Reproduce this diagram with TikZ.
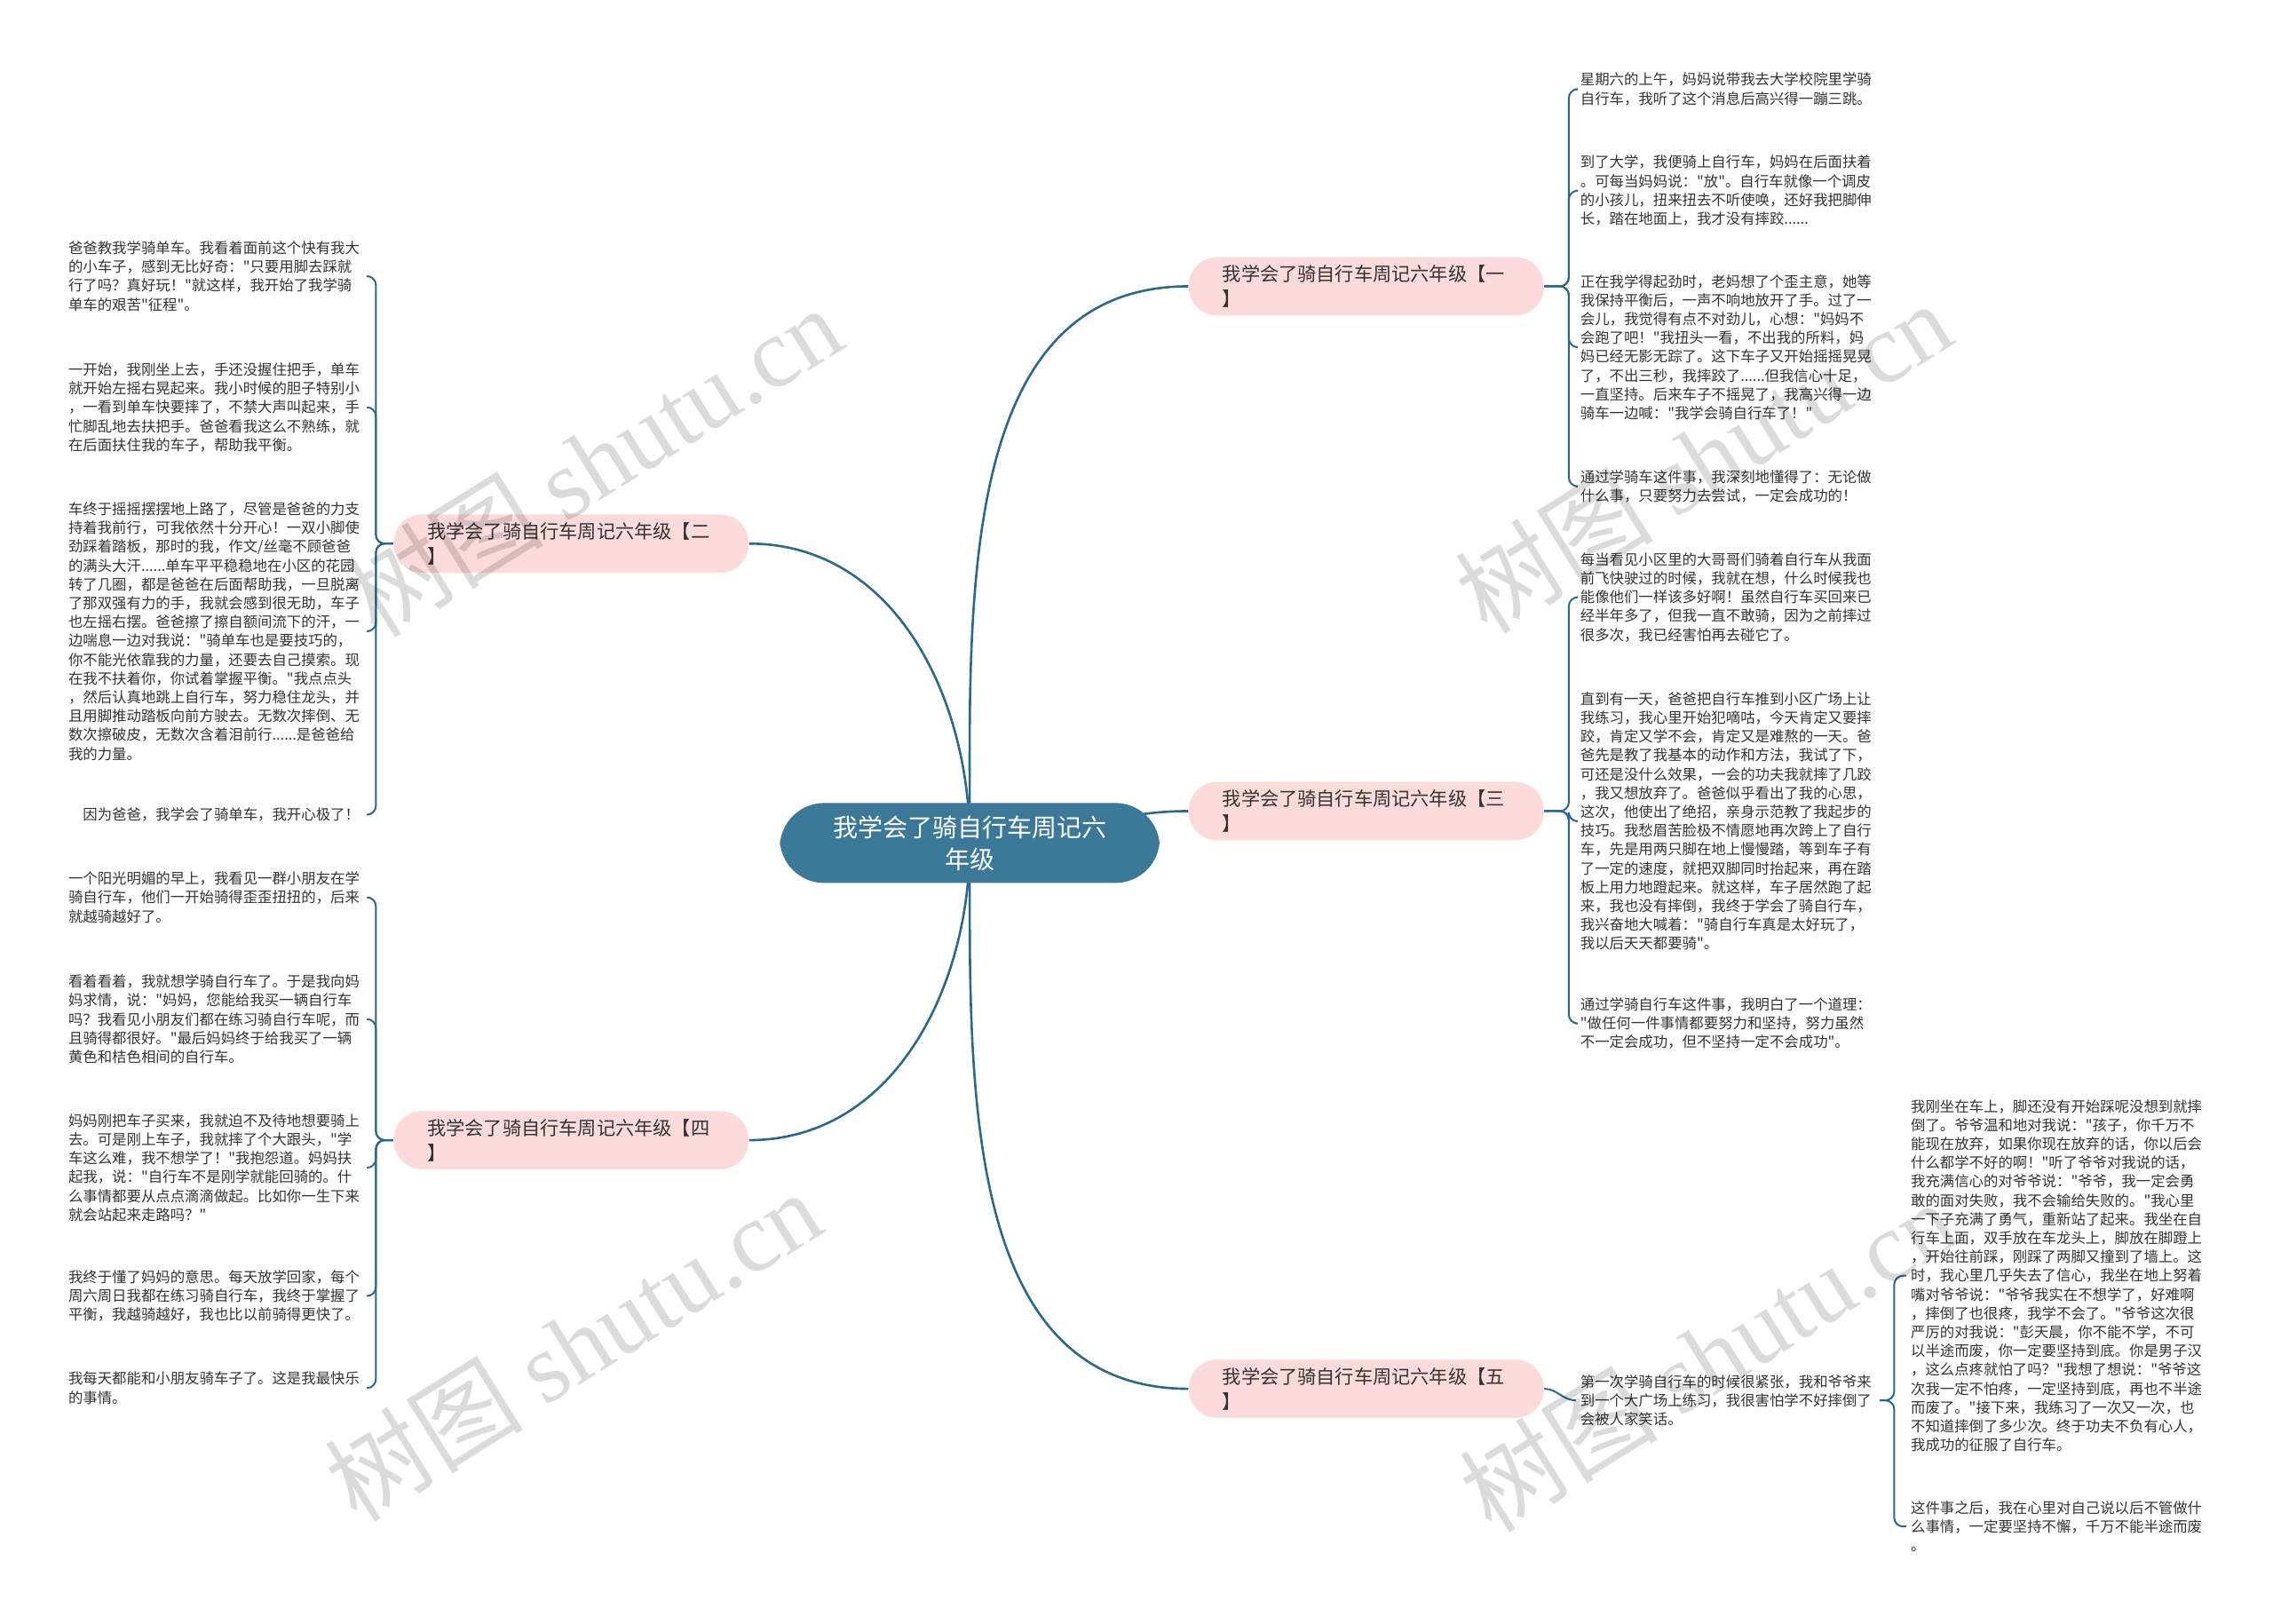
\documentclass[tikz,border=0pt]{standalone}
\usepackage{fontspec}
\setmainfont{Noto Sans CJK SC}[Ligatures=TeXOff]
\newfontfamily\wmfont{Liberation Serif}
\usetikzlibrary{backgrounds}
\definecolor{rootblue}{RGB}{60,121,153}
\definecolor{linkblue}{RGB}{44,104,138}
\definecolor{branchpink}{RGB}{251,219,217}
\definecolor{textgray}{RGB}{51,51,51}

\begin{document}
\begin{tikzpicture}
 [x=0.8165pt,y=-0.8165pt,
  root/.style={rounded corners=25pt,fill=rootblue,text=white,align=center,text width=160pt,inner xsep=27pt,inner ysep=7pt,font=\fontsize{14}{18}\selectfont},
  branch/.style={rounded corners=16pt,fill=branchpink,text=textgray,align=left,text width=162pt,inner xsep=19pt,inner ysep=4.5pt,font=\fontsize{10.6}{13.9}\selectfont},
  leaf/.style={anchor=west,align=left,text width=166pt,inner xsep=2.4pt,inner ysep=0pt,text=textgray,font=\fontsize{8.2}{10.6}\selectfont},
  link/.style={draw=linkblue,line width=1.3pt},
  brace/.style={draw=linkblue,line width=1pt,rounded corners=5pt},
  wmark/.style={rotate=32,text=black,opacity=0.14,font=\fontsize{56}{56}\selectfont}]
  \useasboundingbox (0,0) rectangle (1568,1120);

  \node[root] (root) at (669,581.5) {我学会了骑自行车周记六\\年级};

  \node[branch] (b1) at (942.5,197.5) {我学会了骑自行车周记六年级【一\\】};
  \node[branch] (b2) at (394,375) {我学会了骑自行车周记六年级【二\\】};
  \node[branch] (b3) at (942.5,559.5) {我学会了骑自行车周记六年级【三\\】};
  \node[branch] (b4) at (394,786.5) {我学会了骑自行车周记六年级【四\\】};
  \node[branch] (b5) at (942.5,958) {我学会了骑自行车周记六年级【五\\】};

  % right side
  \node[leaf] (l1a) at (1087,61.5) {星期六的上午，妈妈说带我去大学校院里学骑\\自行车，我听了这个消息后高兴得一蹦三跳。};
  \node[leaf] (l1b) at (1087,131.5) {到了大学，我便骑上自行车，妈妈在后面扶着\\。可每当妈妈说："放"。自行车就像一个调皮\\的小孩儿，扭来扭去不听使唤，还好我把脚伸\\长，踏在地面上，我才没有摔跤......};
  \node[leaf] (l1c) at (1087,239.5) {正在我学得起劲时，老妈想了个歪主意，她等\\我保持平衡后，一声不响地放开了手。过了一\\会儿，我觉得有点不对劲儿，心想："妈妈不\\会跑了吧！"我扭头一看，不出我的所料，妈\\妈已经无影无踪了。这下车子又开始摇摇晃晃\\了，不出三秒，我摔跤了......但我信心十足，\\一直坚持。后来车子不摇晃了，我高兴得一边\\骑车一边喊："我学会骑自行车了！"};
  \node[leaf] (l1d) at (1087,335.5) {通过学骑车这件事，我深刻地懂得了：无论做\\什么事，只要努力去尝试，一定会成功的！};

  \node[leaf] (l3a) at (1087,412) {每当看见小区里的大哥哥们骑着自行车从我面\\前飞快驶过的时候，我就在想，什么时候我也\\能像他们一样该多好啊！虽然自行车买回来已\\经半年多了，但我一直不敢骑，因为之前摔过\\很多次，我已经害怕再去碰它了。};
  \node[leaf] (l3b) at (1087,566.5) {直到有一天，爸爸把自行车推到小区广场上让\\我练习，我心里开始犯嘀咕，今天肯定又要摔\\跤，肯定又学不会，肯定又是难熬的一天。爸\\爸先是教了我基本的动作和方法，我试了下，\\可还是没什么效果，一会的功夫我就摔了几跤\\，我又想放弃了。爸爸似乎看出了我的心思，\\这次，他使出了绝招，亲身示范教了我起步的\\技巧。我愁眉苦脸极不情愿地再次跨上了自行\\车，先是用两只脚在地上慢慢踏，等到车子有\\了一定的速度，就把双脚同时抬起来，再在踏\\板上用力地蹬起来。就这样，车子居然跑了起\\来，我也没有摔倒，我终于学会了骑自行车，\\我兴奋地大喊着："骑自行车真是太好玩了，\\我以后天天都要骑"。};
  \node[leaf] (l3c) at (1087,706) {通过学骑自行车这件事，我明白了一个道理：\\"做任何一件事情都要努力和坚持，努力虽然\\不一定会成功，但不坚持一定不会成功"。};

  \node[leaf] (l5a) at (1087,966) {第一次学骑自行车的时候很紧张，我和爷爷来\\到一个大广场上练习，我很害怕学不好摔倒了\\会被人家笑话。};
  \node[leaf] (l5b) at (1315,880) {我刚坐在车上，脚还没有开始踩呢没想到就摔\\倒了。爷爷温和地对我说："孩子，你千万不\\能现在放弃，如果你现在放弃的话，你以后会\\什么都学不好的啊！"听了爷爷对我说的话，\\我充满信心的对爷爷说："爷爷，我一定会勇\\敢的面对失败，我不会输给失败的。"我心里\\一下子充满了勇气，重新站了起来。我坐在自\\行车上面，双手放在车龙头上，脚放在脚蹬上\\，开始往前踩，刚踩了两脚又撞到了墙上。这\\时，我心里几乎失去了信心，我坐在地上努着\\嘴对爷爷说："爷爷我实在不想学了，好难啊\\，摔倒了也很疼，我学不会了。"爷爷这次很\\严厉的对我说："彭天晨，你不能不学，不可\\以半途而废，你一定要坚持到底。你是男子汉\\，这么点疼就怕了吗？"我想了想说："爷爷这\\次我一定不怕疼，一定坚持到底，再也不半途\\而废了。"接下来，我练习了一次又一次，也\\不知道摔倒了多少次。终于功夫不负有心人，\\我成功的征服了自行车。};
  \node[leaf] (l5c) at (1315,1053) {这件事之后，我在心里对自己说以后不管做什\\么事情，一定要坚持不懈，千万不能半途而废\\。};

  % left side
  \node[leaf] (l2a) at (44,190.5) {爸爸教我学骑单车。我看着面前这个快有我大\\的小车子，感到无比好奇："只要用脚去踩就\\行了吗？真好玩！"就这样，我开始了我学骑\\单车的艰苦"征程"。};
  \node[leaf] (l2b) at (44,281) {一开始，我刚坐上去，手还没握住把手，单车\\就开始左摇右晃起来。我小时候的胆子特别小\\，一看到单车快要摔了，不禁大声叫起来，手\\忙脚乱地去扶把手。爸爸看我这么不熟练，就\\在后面扶住我的车子，帮助我平衡。};
  \node[leaf] (l2c) at (44,435.5) {车终于摇摇摆摆地上路了，尽管是爸爸的力支\\持着我前行，可我依然十分开心！一双小脚使\\劲踩着踏板，那时的我，作文/丝毫不顾爸爸\\的满头大汗......单车平平稳稳地在小区的花园\\转了几圈，都是爸爸在后面帮助我，一旦脱离\\了那双强有力的手，我就会感到很无助，车子\\也左摇右摆。爸爸擦了擦自额间流下的汗，一\\边喘息一边对我说："骑单车也是要技巧的，\\你不能光依靠我的力量，还要去自己摸索。现\\在我不扶着你，你试着掌握平衡。"我点点头\\，然后认真地跳上自行车，努力稳住龙头，并\\且用脚推动踏板向前方驶去。无数次摔倒、无\\数次擦破皮，无数次含着泪前行......是爸爸给\\我的力量。};
  \node[leaf] (l2d) at (44,562) {\hspace*{8.2pt}因为爸爸，我学会了骑单车，我开心极了！};

  \node[leaf] (l4a) at (44,619) {一个阳光明媚的早上，我看见一群小朋友在学\\骑自行车，他们一开始骑得歪歪扭扭的，后来\\就越骑越好了。};
  \node[leaf] (l4b) at (44,703) {看着看着，我就想学骑自行车了。于是我向妈\\妈求情，说："妈妈，您能给我买一辆自行车\\吗？我看见小朋友们都在练习骑自行车呢，而\\且骑得都很好。"最后妈妈终于给我买了一辆\\黄色和桔色相间的自行车。};
  \node[leaf] (l4c) at (44,805.5) {妈妈刚把车子买来，我就迫不及待地想要骑上\\去。可是刚上车子，我就摔了个大跟头，"学\\车这么难，我不想学了！"我抱怨道。妈妈扶\\起我，说："自行车不是刚学就能回骑的。什\\么事情都要从点点滴滴做起。比如你一生下来\\就会站起来走路吗？"};
  \node[leaf] (l4d) at (44,894) {我终于懂了妈妈的意思。每天放学回家，每个\\周六周日我都在练习骑自行车，我终于掌握了\\平衡，我越骑越好，我也比以前骑得更快了。};
  \node[leaf] (l4e) at (44,957.5) {我每天都能和小朋友骑车子了。这是我最快乐\\的事情。};

  \begin{scope}[on background layer]
    \fill[white] (0,0) rectangle (1568,1120);
    \foreach \t/\a/\i in {b1.west/90/180,b2.east/90/0,b3.west/0/180,b4.east/-90/0,b5.west/-90/180}
      \draw[link] (root.center) to[out=\a,in=\i] (\t);
  \end{scope}

  \foreach \b/\l in {b1/l1a,b1/l1b,b1/l1c,b1/l1d,b3/l3a,b3/l3b,b3/l3c}
    \draw[brace] (\b.east) -- ++(17,0) |- (\l.west);
  \foreach \b/\l in {b2/l2a,b2/l2b,b2/l2c,b2/l2d,b4/l4a,b4/l4b,b4/l4c,b4/l4d,b4/l4e}
    \draw[brace] (\b.west) -- ++(-12,0) |- (\l.east);
  \draw[link,line width=1pt] (b5.east) to[out=0,in=180] (l5a.west);
  \foreach \l in {l5b,l5c}
    \draw[brace] (l5a.east) -- ++(10,0) |- (\l.west);

  % watermarks
  \foreach \x/\y in {409/318,395/928,1175/315,1178/935}
    \node[wmark] at (\x,\y) {树图 {\wmfont shutu.cn}};
\end{tikzpicture}
\end{document}
